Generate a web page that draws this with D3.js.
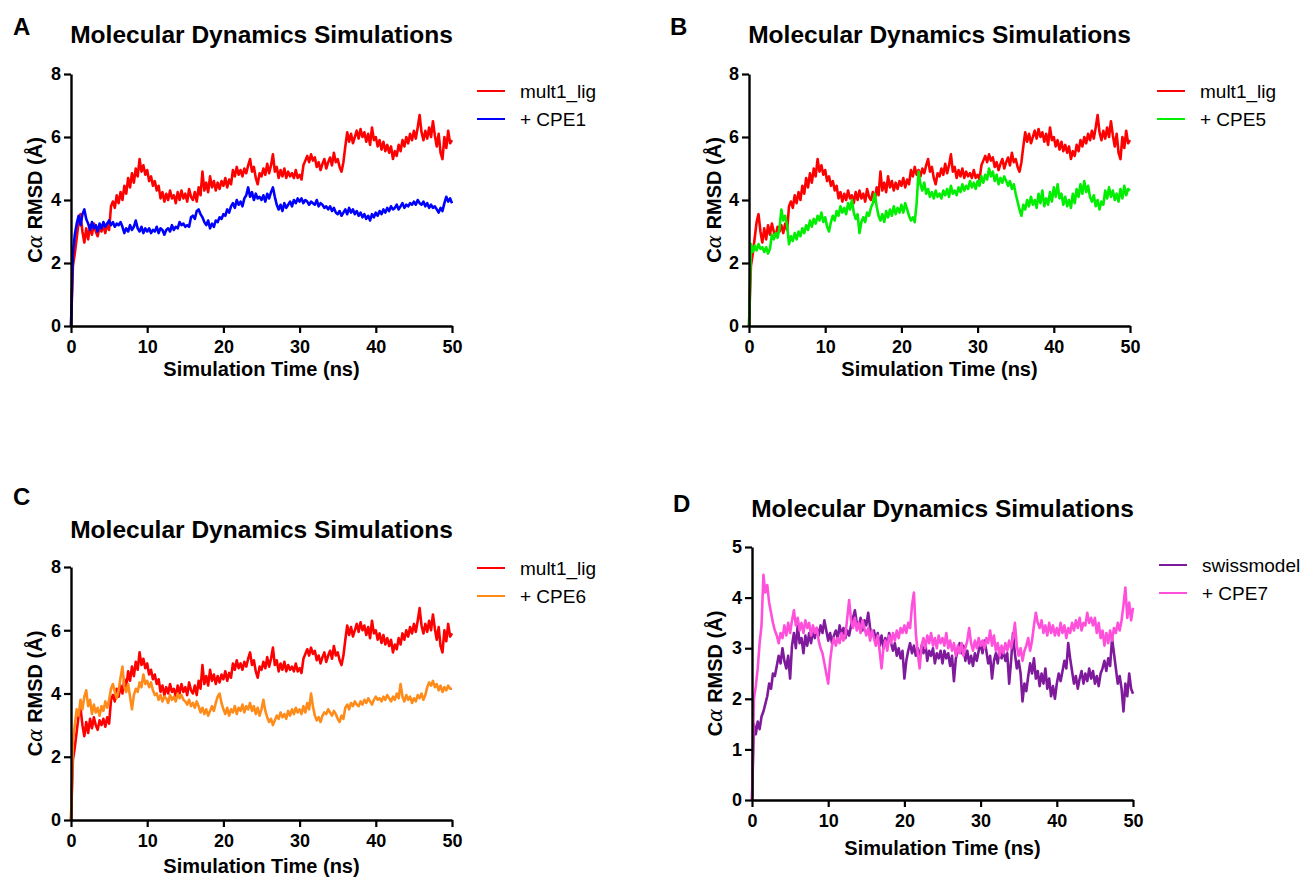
<!DOCTYPE html>
<html>
<head>
<meta charset="utf-8">
<script src="https://cdn.jsdelivr.net/npm/d3@7"></script>
<style>
  body { margin: 0; background: #fff; }
  svg { font-family: "Liberation Sans", Arial, sans-serif; }
</style>
</head>
<body>
<svg id="chart" width="1309" height="877"></svg>
<script>
// sampling times (ns), one value every 0.25 ns
const times = d3.range(0, 50.001, 0.25);

// Ca RMSD (A), 20 values per 5 ns row
const mult1Lig = [
  0, 1.9, 2.3, 2.8, 3.3, 3.55, 3.0, 2.65, 3.1, 2.75, 3.2, 2.9, 3.25, 3.0, 2.85, 3.15, 3.0, 3.2, 2.95, 3.25,
  3.05, 3.8, 3.95, 3.75, 4.15, 3.9, 4.25, 4.0, 4.45, 4.2, 4.7, 4.4, 4.85, 4.55, 5.0, 4.75, 5.3, 4.9, 5.1, 4.8,
  4.95, 4.6, 4.75, 4.45, 4.6, 4.3, 4.45, 4.05, 4.25, 3.95, 4.2, 4.0, 4.3, 4.05, 4.15, 3.9, 4.25, 4.0, 4.3, 4.05,
  4.2, 3.95, 4.35, 4.1, 4.0, 4.25, 3.95, 4.4, 4.15, 4.9, 4.3, 4.55, 4.25, 4.75, 4.4, 4.6, 4.3, 4.55, 4.35, 4.6,
  4.45, 4.7, 4.4, 4.65, 4.5, 4.95, 4.75, 5.05, 4.8, 4.95, 4.75, 5.0, 4.85, 5.1, 5.3, 4.9, 5.05, 4.7, 4.5, 4.85,
  4.75, 5.0, 4.8, 5.15, 4.85, 5.1, 5.45, 4.9, 5.05, 4.7, 4.95, 4.75, 5.0, 4.7, 4.9, 4.75, 4.85, 4.7, 4.95, 4.7,
  4.8, 4.65, 5.1, 5.25, 5.4, 5.2, 5.45, 5.25, 5.35, 5.05, 5.2, 4.95, 5.15, 5.3, 5.0, 5.2, 5.35, 5.1, 5.5, 5.2,
  5.3, 5.05, 4.9, 5.2, 5.7, 6.15, 5.85, 6.1, 5.8, 6.0, 6.2, 5.95, 6.25, 6.0, 6.15, 5.85, 6.1, 5.75, 6.3, 5.9,
  6.0, 5.7, 5.9, 5.6, 5.85, 5.55, 5.75, 5.5, 5.7, 5.3, 5.55, 5.4, 5.75, 5.55, 5.9, 5.7, 6.0, 5.8, 6.1, 5.9,
  6.2, 5.95, 6.3, 6.7, 6.15, 5.9, 6.2, 5.95, 6.3, 6.0, 6.5, 6.05, 5.7, 6.1, 5.5, 5.3, 6.0, 5.65, 6.2, 5.8,
  5.9
];
const cpe1 = [
  0, 2.3, 2.9, 3.25, 3.5, 3.2, 3.55, 3.7, 3.4, 3.25, 3.05, 3.3, 3.1, 3.2, 3.0, 3.25, 3.1, 3.3, 3.15, 3.25,
  3.35, 3.2, 3.3, 3.15, 3.25, 3.2, 3.3, 3.15, 2.95, 3.1, 3.0, 3.2, 3.05, 3.15, 3.35, 3.1, 3.0, 3.15, 2.95, 3.1,
  3.0, 3.1, 2.95, 3.05, 3.0, 3.15, 2.95, 3.1, 3.05, 2.9, 3.05, 3.1, 3.0, 3.2, 3.05, 3.15, 3.1, 3.3, 3.2, 3.25,
  3.15, 3.2, 3.15, 3.45, 3.5, 3.4, 3.65, 3.7, 3.55, 3.45, 3.3, 3.2, 3.35, 3.1, 3.25, 3.15, 3.35, 3.3, 3.45, 3.4,
  3.55, 3.5, 3.7, 3.6, 3.8, 3.9, 3.75, 4.0, 3.85, 3.95, 3.8, 4.05, 4.15, 4.4, 4.1, 4.25, 4.0, 4.2, 4.05, 4.1,
  4.0, 4.15, 3.95, 4.2, 4.05, 4.25, 4.4, 4.1, 3.85, 3.7, 3.85, 3.65, 3.9, 3.75, 3.85, 3.95, 3.8, 4.0, 3.9, 4.05,
  3.95, 4.05, 3.9, 4.0, 3.95, 3.85, 3.95, 3.9, 3.85, 4.0, 3.8, 3.9, 3.85, 3.75, 3.8, 3.7, 3.8, 3.65, 3.75, 3.6,
  3.55, 3.65, 3.5, 3.6, 3.7, 3.55, 3.75, 3.6, 3.7, 3.55, 3.65, 3.5, 3.6, 3.45, 3.55, 3.4, 3.5, 3.35, 3.55, 3.45,
  3.6, 3.5, 3.65, 3.55, 3.7, 3.6, 3.75, 3.65, 3.8, 3.7, 3.75, 3.85, 3.7, 3.8, 3.9, 3.75, 3.85, 3.8, 3.9, 3.85,
  3.95, 3.85, 4.0, 3.9, 3.85, 3.95, 3.8, 3.9, 3.75, 3.85, 3.75, 3.8, 3.7, 3.6, 3.75, 3.65, 3.9, 4.1, 3.95, 4.05,
  3.9
];
const cpe5 = [
  0, 2.6, 2.35, 2.55, 2.4, 2.6, 2.45, 2.5, 2.35, 2.5, 2.3, 2.45, 2.9, 2.75, 2.95, 2.8, 3.1, 3.7, 3.35, 3.5,
  3.2, 2.6, 2.85, 2.7, 2.95, 2.75, 3.0, 2.85, 3.1, 2.95, 3.2, 3.05, 3.35, 3.15, 3.4, 3.25, 3.5, 3.35, 3.6, 3.3,
  3.45, 3.15, 3.0, 3.3, 3.5, 3.35, 3.65, 3.5, 3.8, 3.6, 3.75, 3.55, 3.9, 3.7, 4.0, 3.6, 3.4, 3.55, 2.95, 3.3,
  3.45, 3.3, 3.6, 3.5, 3.75, 3.9, 4.2, 3.8, 3.5, 3.35, 3.55, 3.3, 3.65, 3.45, 3.7, 3.5, 3.8, 3.55, 3.75, 3.6,
  3.85, 3.6, 3.9, 3.7, 3.5, 3.35, 3.45, 3.3, 3.9, 4.9, 4.5, 4.3, 4.55, 4.2, 4.35, 4.1, 4.25, 4.05, 4.3, 4.1,
  4.2, 4.05, 4.3, 4.15, 4.35, 4.1, 4.45, 4.2, 4.3, 4.15, 4.4, 4.25, 4.5, 4.3, 4.45, 4.35, 4.6, 4.4, 4.55, 4.35,
  4.6, 4.45, 4.75, 4.55, 4.8, 4.65, 5.0, 4.75, 4.9, 4.6, 4.8, 4.5, 4.7, 4.55, 4.75, 4.6, 4.45, 4.6, 4.35, 4.5,
  4.2, 3.95, 3.7, 3.5, 3.85, 3.7, 4.0, 3.8, 4.1, 3.85, 4.0, 3.75, 4.2, 3.9, 4.3, 3.8, 4.05, 3.85, 4.25, 3.95,
  4.4, 4.1, 4.5, 4.05, 4.2, 3.85, 4.1, 3.8, 4.0, 3.75, 4.2, 3.9, 4.35, 4.1, 4.5, 4.2, 4.6, 4.25, 4.45, 4.1,
  3.95, 4.15, 3.8, 4.0, 3.7, 3.95, 3.85, 4.3, 4.05, 4.4, 4.1, 4.3, 4.0, 4.2, 3.95, 4.35, 4.05, 4.45, 4.15, 4.35,
  4.3
];
const cpe6 = [
  0, 2.5, 3.0, 3.5, 3.3, 3.8, 3.5, 3.9, 4.1, 3.6, 3.8, 3.35, 3.65, 3.4, 3.55, 3.3, 3.6, 3.45, 3.75, 3.55,
  3.8, 4.15, 4.3, 4.05, 3.85, 4.1, 4.5, 4.85, 4.2, 4.05, 4.3, 3.9, 3.5, 3.95, 4.15, 4.05, 4.35, 4.2, 4.6, 4.3,
  4.4, 4.2, 4.35, 4.1, 3.95, 4.0, 3.8, 3.95, 3.75, 3.9, 3.85, 3.7, 3.95, 3.8, 3.9, 3.75, 4.0, 3.85, 3.95, 3.8,
  3.75, 3.65, 3.8, 3.6, 3.7, 3.55, 3.75, 3.6, 3.4, 3.55, 3.35, 3.5, 3.3, 3.45, 3.6, 3.45, 3.7, 3.9, 4.0, 3.7,
  3.5, 3.35, 3.55, 3.3, 3.5, 3.4, 3.6, 3.35, 3.55, 3.45, 3.65, 3.4, 3.6, 3.5, 3.7, 3.45, 3.6, 3.35, 3.55, 3.3,
  3.5, 3.8, 3.45, 3.25, 3.1, 3.2, 3.0, 3.15, 3.3, 3.2, 3.4, 3.25, 3.35, 3.2, 3.45, 3.3, 3.5, 3.35, 3.55, 3.4,
  3.5, 3.35, 3.6, 3.4, 3.7, 3.5, 4.0, 3.6, 3.3, 3.15, 3.25, 3.1, 3.3, 3.4, 3.35, 3.5, 3.4, 3.3, 3.45, 3.35,
  3.2, 3.1, 3.3, 3.2, 3.55, 3.65, 3.5, 3.7, 3.6, 3.75, 3.65, 3.6, 3.75, 3.65, 3.8, 3.7, 3.85, 3.75, 3.65, 3.8,
  3.9, 3.8, 3.85, 3.75, 3.9, 3.8, 3.95, 3.85, 3.75, 3.9, 3.8, 4.0, 3.85, 4.3, 3.9, 3.75, 3.95, 3.8, 3.9, 3.7,
  3.85, 3.75, 3.95, 3.85, 4.0, 3.8, 3.95, 4.2, 4.35, 4.25, 4.4, 4.2, 4.3, 4.1, 4.25, 4.05, 4.2, 4.1, 4.25, 4.15,
  4.15
];
const swissmodel = [
  0, 1.5, 1.3, 1.55, 1.4, 1.65, 1.75, 1.9, 2.05, 2.3, 2.2, 2.5, 2.45, 2.65, 2.85, 2.7, 3.0, 2.75, 2.6, 2.85,
  2.4, 3.05, 3.3, 3.0, 3.45, 3.1, 3.2, 2.9, 3.25, 3.05, 3.3, 3.1, 3.35, 3.2, 3.4, 3.25, 3.45, 3.3, 3.55, 3.35,
  3.15, 3.3, 3.1, 3.25, 3.35, 3.2, 3.45, 3.25, 3.4, 3.2, 3.35, 3.25, 3.45, 3.6, 3.75, 3.5, 3.4, 3.6, 3.35, 3.55,
  3.45, 3.7, 3.4, 3.25, 3.35, 3.15, 3.3, 3.05, 3.25, 3.0, 3.2, 3.05, 3.3, 3.1, 2.95, 3.1, 2.85, 3.0, 2.8, 2.95,
  2.4, 2.75, 2.95, 3.1, 2.9, 3.05, 2.85, 3.0, 2.8, 3.05, 2.9, 3.1, 2.75, 2.95, 2.85, 3.0, 2.7, 2.9, 2.8, 2.95,
  2.7, 2.95, 2.8, 2.9, 2.65, 2.85, 2.35, 2.8, 2.95, 3.1, 2.9, 3.05, 2.75, 2.95, 2.7, 2.85, 2.65, 2.9, 2.75, 2.95,
  3.1, 2.9, 3.15, 2.95, 2.7, 2.85, 2.4, 2.75, 2.9, 2.7, 3.0, 2.8, 2.95, 2.75, 2.9, 2.3, 2.75, 3.3, 2.9, 2.6,
  2.75, 2.5, 1.95, 2.3, 2.15, 2.45, 2.7, 2.5, 2.8, 2.4, 2.55, 2.25, 2.5, 2.3, 2.6, 2.2, 2.4, 2.05, 2.25, 2.0,
  2.3, 2.5, 2.35, 2.55, 2.75, 2.6, 3.1, 2.8, 2.55, 2.3, 2.45, 2.2, 2.4, 2.55, 2.3, 2.5, 2.35, 2.6, 2.4, 2.55,
  2.3, 2.45, 2.25, 2.5, 2.6, 2.75, 2.55, 2.8, 2.65, 3.2, 2.9, 2.6, 2.3, 2.45, 2.2, 1.75, 2.3, 2.05, 2.5, 2.2,
  2.1
];
const cpe7 = [
  0, 2.0, 2.25, 2.6, 3.1, 3.45, 4.45, 4.1, 4.25, 3.9, 3.7, 3.5, 3.35, 3.25, 3.1, 3.3, 3.2, 3.45, 3.25, 3.5,
  3.3, 3.55, 3.75, 3.45, 3.6, 3.35, 3.5, 3.3, 3.55, 3.4, 3.5, 3.25, 3.45, 3.3, 3.4, 3.15, 3.0, 2.9, 2.7, 2.5,
  2.3, 2.75, 3.05, 3.2, 3.05, 3.2, 3.1, 3.3, 3.15, 3.25, 3.6, 3.95, 3.55, 3.4, 3.6, 3.35, 3.5, 3.3, 3.55, 3.4,
  3.25, 3.4, 3.15, 3.35, 3.2, 3.05, 3.25, 2.95, 2.6, 3.0, 3.15, 2.95, 3.25, 3.1, 3.3, 3.15, 3.35, 3.2, 3.4, 3.3,
  3.45, 3.3, 3.5, 3.4, 3.85, 4.1, 3.3, 2.9, 2.6, 3.05, 3.2, 3.0, 3.25, 3.1, 3.3, 3.05, 3.2, 3.0, 3.25, 3.1,
  3.2, 3.05, 3.3, 3.0, 3.15, 2.95, 3.1, 2.85, 3.05, 2.9, 3.1, 2.85, 3.0, 3.15, 3.4, 3.1, 2.95, 3.15, 3.0, 3.2,
  3.05, 3.15, 3.0, 3.2, 3.1, 3.35, 3.05, 3.25, 2.95, 3.1, 2.85, 3.05, 2.9, 3.1, 2.95, 3.15, 3.0, 3.2, 3.5, 3.05,
  2.85, 3.0, 2.75, 2.95, 3.05, 3.2, 2.95, 3.15, 3.45, 3.7, 3.5, 3.4, 3.55, 3.3, 3.45, 3.25, 3.5, 3.3, 3.45, 3.25,
  3.4, 3.25, 3.5, 3.3, 3.45, 3.2, 3.4, 3.3, 3.5, 3.35, 3.55, 3.4, 3.6, 3.35, 3.5, 3.45, 3.7, 3.5, 3.6, 3.45,
  3.6, 3.3, 3.5, 3.2, 3.35, 3.05, 3.3, 3.1, 3.35, 3.15, 3.4, 3.3, 3.5, 3.35, 3.55, 3.85, 4.2, 3.6, 3.9, 3.55,
  3.8
];

const xTicks = [0, 10, 20, 30, 40, 50];
const yTicks8 = [0, 2, 4, 6, 8];
const yTicks5 = [0, 1, 2, 3, 4, 5];
const panelLetters = ["A", "B", "C", "D"];
const seriesNames = [["mult1_lig", "+ CPE1"], ["mult1_lig", "+ CPE5"], ["mult1_lig", "+ CPE6"], ["swissmodel", "+ CPE7"]];
const seriesData = [[mult1Lig, cpe1], [mult1Lig, cpe5], [mult1Lig, cpe6], [swissmodel, cpe7]];
const titleText = "Molecular Dynamics Simulations";

// layout (pixels) and styling for each panel
const layout = [
  { x0: 71,  x1: 452,  y0: 74,  y1: 326, yMax: 8, yTicks: yTicks8, letter: [13, 35],  titleY: 43,  xTitleY: 376, yTitleX: 42,  legend: [477, 91], colors: ["#ff0000", "#0000ff"] },
  { x0: 749, x1: 1130, y0: 74,  y1: 326, yMax: 8, yTicks: yTicks8, letter: [670, 35], titleY: 43,  xTitleY: 376, yTitleX: 721, legend: [1157, 91], colors: ["#ff0000", "#00ee00"] },
  { x0: 71,  x1: 452,  y0: 567, y1: 820, yMax: 8, yTicks: yTicks8, letter: [13, 505], titleY: 538, xTitleY: 873, yTitleX: 42,  legend: [477, 568], colors: ["#ff0000", "#ff8c1a"] },
  { x0: 752, x1: 1133, y0: 547, y1: 800, yMax: 5, yTicks: yTicks5, letter: [673, 512], titleY: 517, xTitleY: 855, yTitleX: 722, legend: [1159, 565], colors: ["#7f1a9c", "#ff50dc"] }
];

const svg = d3.select("#chart");

layout.forEach((p, i) => {
  const g = svg.append("g");
  const x = d3.scaleLinear().domain([0, 50]).range([p.x0, p.x1]);
  const y = d3.scaleLinear().domain([0, p.yMax]).range([p.y1, p.y0]);

  // traces first, axes on top
  const line = d3.line().x((d, k) => x(times[k])).y(d => y(d));
  seriesData[i].forEach((vals, s) => {
    g.append("path")
      .datum(vals)
      .attr("d", line)
      .attr("fill", "none")
      .attr("stroke", p.colors[s])
      .attr("stroke-width", 2.6)
      .attr("stroke-linejoin", "round");
  });

  const xAxis = g.append("g")
    .attr("transform", `translate(0,${p.y1})`)
    .call(d3.axisBottom(x).tickValues(xTicks).tickSize(7).tickSizeOuter(0).tickPadding(7).tickFormat(d3.format("d")));
  const yAxis = g.append("g")
    .attr("transform", `translate(${p.x0},0)`)
    .call(d3.axisLeft(y).tickValues(p.yTicks).tickSize(7).tickSizeOuter(0).tickPadding(3).tickFormat(d3.format("d")));

  [xAxis, yAxis].forEach(a => {
    a.select(".domain").attr("stroke", "#000").attr("stroke-width", 2.4);
    a.selectAll(".tick line").attr("stroke", "#000").attr("stroke-width", 2.2);
    a.selectAll(".tick text")
      .attr("fill", "#000")
      .style("font-family", '"Liberation Sans", Arial, sans-serif')
      .style("font-size", "18px")
      .style("font-weight", "bold");
  });

  // panel letter
  g.append("text")
    .attr("x", p.letter[0]).attr("y", p.letter[1])
    .style("font-size", "24px").style("font-weight", "bold")
    .text(panelLetters[i]);

  // title
  g.append("text")
    .attr("x", (p.x0 + p.x1) / 2).attr("y", p.titleY)
    .attr("text-anchor", "middle")
    .style("font-size", "24.5px").style("font-weight", "bold")
    .text(titleText);

  // x axis title
  g.append("text")
    .attr("x", (p.x0 + p.x1) / 2).attr("y", p.xTitleY)
    .attr("text-anchor", "middle")
    .style("font-size", "20px").style("font-weight", "bold")
    .text("Simulation Time (ns)");

  // y axis title
  const yt = g.append("text")
    .attr("transform", `translate(${p.yTitleX},${(p.y0 + p.y1) / 2}) rotate(-90)`)
    .attr("text-anchor", "middle")
    .style("font-size", "20px").style("font-weight", "bold");
  yt.append("tspan").text("C");
  yt.append("tspan").style("font-weight", "normal").style("font-family", '"DejaVu Serif", serif').style("font-style", "italic").text("\u03b1");
  yt.append("tspan").text(" RMSD (\u00c5)");

  // legend
  seriesNames[i].forEach((name, s) => {
    const ly = p.legend[1] + s * 28;
    g.append("line")
      .attr("x1", p.legend[0]).attr("x2", p.legend[0] + 28)
      .attr("y1", ly).attr("y2", ly)
      .attr("stroke", p.colors[s]).attr("stroke-width", 2);
    g.append("text")
      .attr("x", p.legend[0] + 43).attr("y", ly + 7)
      .style("font-size", "19px")
      .text(name);
  });
});
</script>
</body>
</html>
